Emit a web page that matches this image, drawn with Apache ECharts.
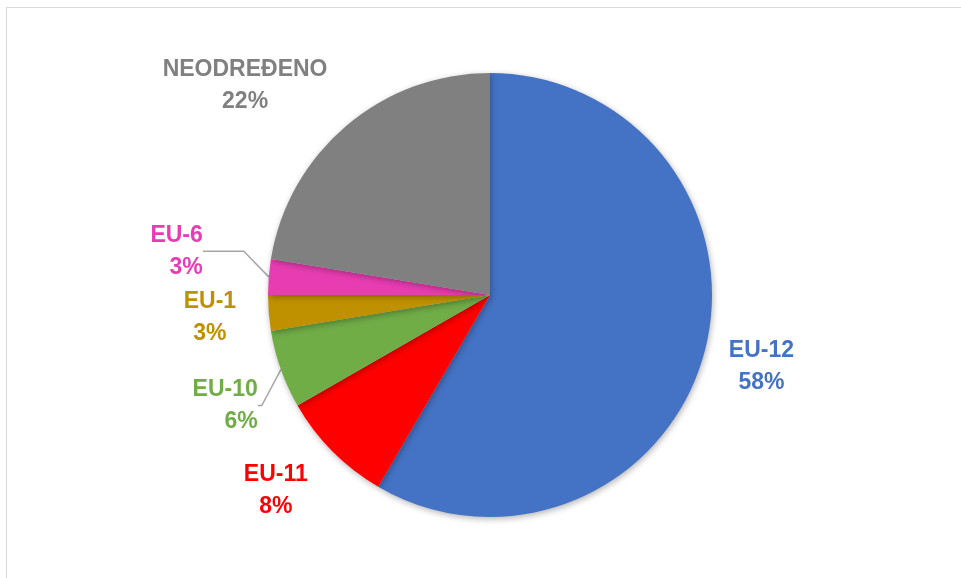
<!DOCTYPE html>
<html>
<head>
<meta charset="utf-8">
<script src="https://cdn.jsdelivr.net/npm/echarts@6/dist/echarts.min.js"></script>
<style>
    html, body { margin: 0; padding: 0; background: #fff; overflow: hidden; }
    #frame {
        position: absolute; left: 6px; top: 7px; width: 1000px; height: 700px;
        border: 1px solid #d9d9d9; box-sizing: border-box;
    }
    #chart { position: absolute; left: 0; top: 0; width: 961px; height: 578px; }
</style>
</head>
<body>
<div id="frame"></div>
<div id="chart"></div>
<script>
// clockwise from 12 o'clock
const categories = ['EU-12', 'EU-11', 'EU-10', 'EU-1', 'EU-6', 'NEODREĐENO']
const shares = [58.4, 8.3, 5.7, 2.6, 2.6, 22.4]
const colors = ['#4472C4', '#FF0000', '#70AD47', '#BF9000', '#E83DB2', '#808080']

// label leader settings per slice (only EU-10 and EU-6 show a line)
const leader = {
    'EU-12': { show: false, length: 54, length2: 0 },
    'EU-11': { show: false, length: 56, length2: 12 },
    'EU-10': { show: true, length: 15, length2: 4 },
    'EU-1': { show: false, length: 54, length2: 0 },
    'EU-6': { show: true, length: 20, length2: 41 },
    'NEODREĐENO': { show: false, length: 53, length2: 62 }
}
// vertical nudge so the small slices' labels don't collide
const nudgeY = { 'EU-10': 31, 'EU-6': -24 }

let seriesData = categories.map((name, i) => ({
    name: name,
    value: shares[i],
    itemStyle: { color: colors[i] },
    label: { color: colors[i] },
    labelLine: leader[name]
}))

let option = {
    animation: false,
    series: [{
        type: 'pie',
        center: [490, 295],
        radius: 222,
        startAngle: 90,
        clockwise: true,
        percentPrecision: 0,
        avoidLabelOverlap: false,
        itemStyle: {
            shadowBlur: 6,
            shadowOffsetX: 1,
            shadowOffsetY: 2,
            shadowColor: 'rgba(0, 0, 0, 0.3)'
        },
        label: {
            show: true,
            position: 'outside',
            formatter: '{b}\n{d}%',
            fontFamily: 'Liberation Sans',
            fontWeight: 'bold',
            fontSize: 23,
            lineHeight: 32
        },
        labelLine: {
            lineStyle: { color: '#a6a6a6', width: 1.5 }
        },
        labelLayout: function (params) {
            let name = categories[params.dataIndex]
            // labels without a leader line sit centred on their anchor
            if (!leader[name].show) return { align: 'center' }
            let r = params.labelRect
            return { y: r.y + r.height / 2 + (nudgeY[name] || 0) }
        },
        data: seriesData
    }]
}

let chart = echarts.init(document.getElementById('chart'))
chart.setOption(option)
</script>
</body>
</html>
